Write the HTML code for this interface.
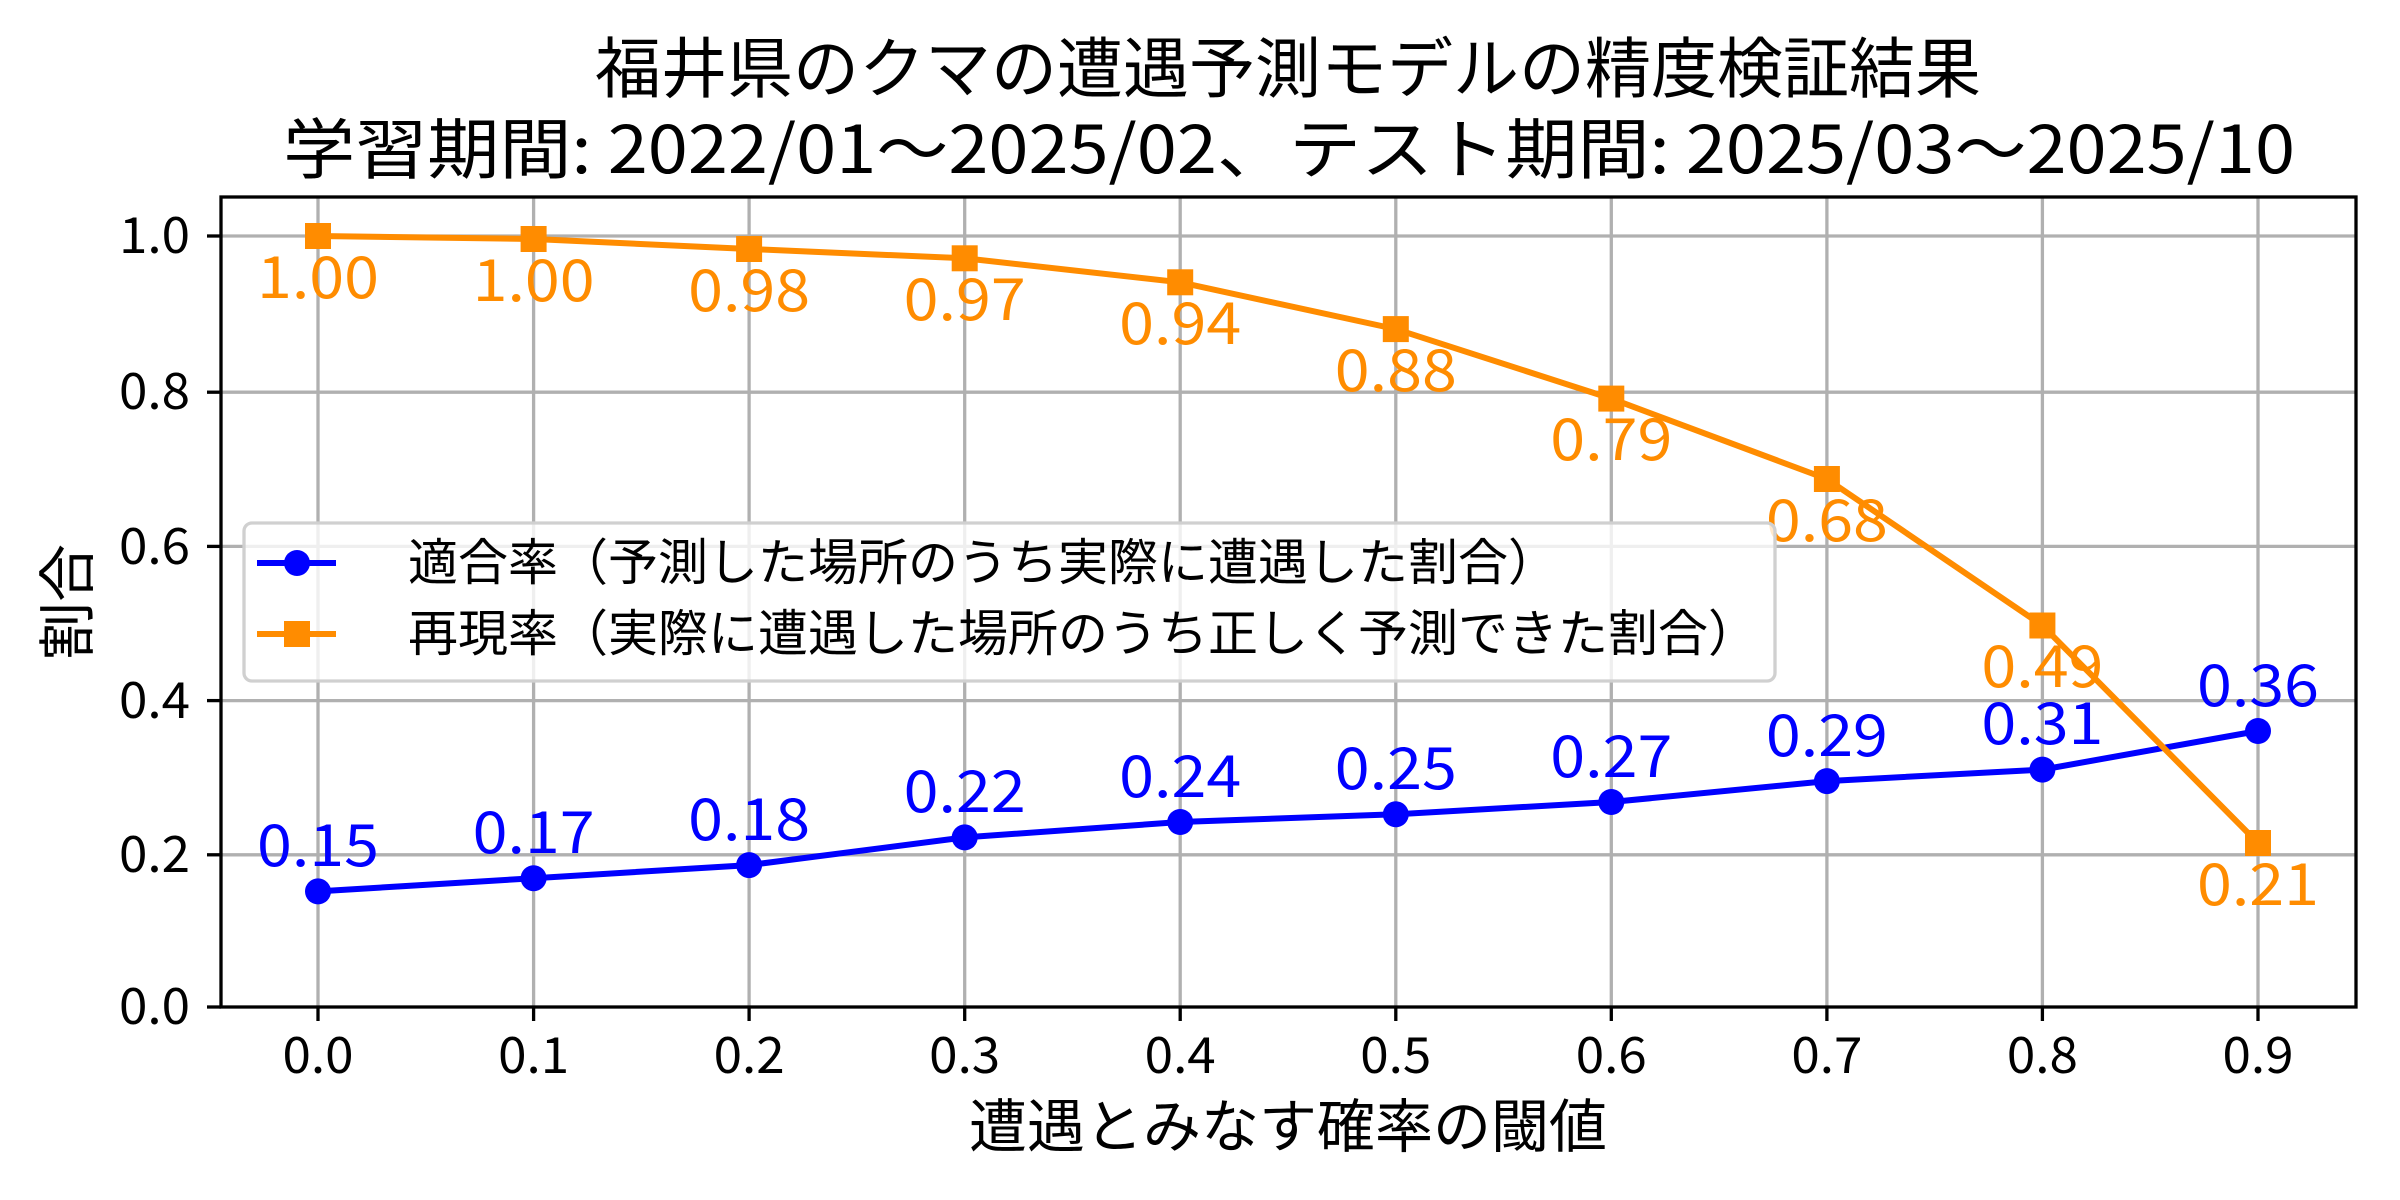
<!DOCTYPE html>
<html><head><meta charset="utf-8"><style>
html,body{margin:0;padding:0;background:#fff;}
svg{display:block;}
text{font-family:"Noto Sans CJK JP","Liberation Sans",sans-serif;}
</style></head><body>
<svg width="2400" height="1200" viewBox="0 0 2400 1200" xmlns="http://www.w3.org/2000/svg">
<rect width="2400" height="1200" fill="#fff"/>
<g stroke="#b0b0b0" stroke-width="3.3">
<line x1="318" y1="197" x2="318" y2="1007"/><line x1="533.6" y1="197" x2="533.6" y2="1007"/><line x1="749.1" y1="197" x2="749.1" y2="1007"/><line x1="964.7" y1="197" x2="964.7" y2="1007"/><line x1="1180.2" y1="197" x2="1180.2" y2="1007"/><line x1="1395.8" y1="197" x2="1395.8" y2="1007"/><line x1="1611.3" y1="197" x2="1611.3" y2="1007"/><line x1="1826.9" y1="197" x2="1826.9" y2="1007"/><line x1="2042.4" y1="197" x2="2042.4" y2="1007"/><line x1="2258" y1="197" x2="2258" y2="1007"/>
<line x1="221" y1="854.8" x2="2356" y2="854.8"/><line x1="221" y1="700.6" x2="2356" y2="700.6"/><line x1="221" y1="546.4" x2="2356" y2="546.4"/><line x1="221" y1="392.2" x2="2356" y2="392.2"/><line x1="221" y1="236" x2="2356" y2="236"/>
</g>
<g stroke="#000" stroke-width="3.3">
<line x1="318" y1="1007" x2="318" y2="1021"/><line x1="533.6" y1="1007" x2="533.6" y2="1021"/><line x1="749.1" y1="1007" x2="749.1" y2="1021"/><line x1="964.7" y1="1007" x2="964.7" y2="1021"/><line x1="1180.2" y1="1007" x2="1180.2" y2="1021"/><line x1="1395.8" y1="1007" x2="1395.8" y2="1021"/><line x1="1611.3" y1="1007" x2="1611.3" y2="1021"/><line x1="1826.9" y1="1007" x2="1826.9" y2="1021"/><line x1="2042.4" y1="1007" x2="2042.4" y2="1021"/><line x1="2258" y1="1007" x2="2258" y2="1021"/>
<line x1="207" y1="1007" x2="221" y2="1007"/><line x1="207" y1="854.8" x2="221" y2="854.8"/><line x1="207" y1="700.6" x2="221" y2="700.6"/><line x1="207" y1="546.4" x2="221" y2="546.4"/><line x1="207" y1="392.2" x2="221" y2="392.2"/><line x1="207" y1="236" x2="221" y2="236"/>
</g>
<g font-size="50" fill="#000" text-anchor="middle">
<text x="318" y="1073" textLength="71" lengthAdjust="spacingAndGlyphs">0.0</text><text x="533.6" y="1073" textLength="71" lengthAdjust="spacingAndGlyphs">0.1</text><text x="749.1" y="1073" textLength="71" lengthAdjust="spacingAndGlyphs">0.2</text><text x="964.7" y="1073" textLength="71" lengthAdjust="spacingAndGlyphs">0.3</text><text x="1180.2" y="1073" textLength="71" lengthAdjust="spacingAndGlyphs">0.4</text><text x="1395.8" y="1073" textLength="71" lengthAdjust="spacingAndGlyphs">0.5</text><text x="1611.3" y="1073" textLength="71" lengthAdjust="spacingAndGlyphs">0.6</text><text x="1826.9" y="1073" textLength="71" lengthAdjust="spacingAndGlyphs">0.7</text><text x="2042.4" y="1073" textLength="71" lengthAdjust="spacingAndGlyphs">0.8</text><text x="2258" y="1073" textLength="71" lengthAdjust="spacingAndGlyphs">0.9</text>
</g>
<g font-size="50" fill="#000" text-anchor="end">
<text x="190" y="1024" textLength="71" lengthAdjust="spacingAndGlyphs">0.0</text><text x="190" y="872" textLength="71" lengthAdjust="spacingAndGlyphs">0.2</text><text x="190" y="718" textLength="71" lengthAdjust="spacingAndGlyphs">0.4</text><text x="190" y="564" textLength="71" lengthAdjust="spacingAndGlyphs">0.6</text><text x="190" y="409" textLength="71" lengthAdjust="spacingAndGlyphs">0.8</text><text x="190" y="253" textLength="71" lengthAdjust="spacingAndGlyphs">1.0</text>
</g>
<polyline fill="none" stroke="#0000ff" stroke-width="6" points="318,891.4 533.6,878.2 749.1,865.1 964.7,837.4 1180.2,822 1395.8,814.3 1611.3,802 1826.9,781.1 2042.4,769.6 2258,731"/>
<g fill="#0000ff">
<circle cx="318" cy="891.4" r="13"/><circle cx="533.6" cy="878.2" r="13"/><circle cx="749.1" cy="865.1" r="13"/><circle cx="964.7" cy="837.4" r="13"/><circle cx="1180.2" cy="822" r="13"/><circle cx="1395.8" cy="814.3" r="13"/><circle cx="1611.3" cy="802" r="13"/><circle cx="1826.9" cy="781.1" r="13"/><circle cx="2042.4" cy="769.6" r="13"/><circle cx="2258" cy="731" r="13"/>
</g>
<polyline fill="none" stroke="#ff8c00" stroke-width="6" points="318,236 533.6,239 749.1,249 964.7,258.3 1180.2,282.3 1395.8,329.1 1611.3,398.6 1826.9,479 2042.4,625.5 2258,843"/>
<g fill="#ff8c00">
<rect x="305" y="223" width="26" height="26"/><rect x="520.6" y="226" width="26" height="26"/><rect x="736.1" y="236" width="26" height="26"/><rect x="951.7" y="245.3" width="26" height="26"/><rect x="1167.2" y="269.3" width="26" height="26"/><rect x="1382.8" y="316.1" width="26" height="26"/><rect x="1598.3" y="385.6" width="26" height="26"/><rect x="1813.9" y="466" width="26" height="26"/><rect x="2029.4" y="612.5" width="26" height="26"/><rect x="2245" y="830" width="26" height="26"/>
</g>
<g font-size="58" fill="#0000ff" text-anchor="middle">
<text x="318" y="866" textLength="122" lengthAdjust="spacingAndGlyphs">0.15</text><text x="533.6" y="853" textLength="122" lengthAdjust="spacingAndGlyphs">0.17</text><text x="749.1" y="840" textLength="122" lengthAdjust="spacingAndGlyphs">0.18</text><text x="964.7" y="812" textLength="122" lengthAdjust="spacingAndGlyphs">0.22</text><text x="1180.2" y="797" textLength="122" lengthAdjust="spacingAndGlyphs">0.24</text><text x="1395.8" y="789" textLength="122" lengthAdjust="spacingAndGlyphs">0.25</text><text x="1611.3" y="777" textLength="122" lengthAdjust="spacingAndGlyphs">0.27</text><text x="1826.9" y="756" textLength="122" lengthAdjust="spacingAndGlyphs">0.29</text><text x="2042.4" y="744" textLength="122" lengthAdjust="spacingAndGlyphs">0.31</text><text x="2258" y="706" textLength="122" lengthAdjust="spacingAndGlyphs">0.36</text>
</g>
<g font-size="58" fill="#ff8c00" text-anchor="middle">
<text x="318" y="298" textLength="122" lengthAdjust="spacingAndGlyphs">1.00</text><text x="533.6" y="301" textLength="122" lengthAdjust="spacingAndGlyphs">1.00</text><text x="749.1" y="311" textLength="122" lengthAdjust="spacingAndGlyphs">0.98</text><text x="964.7" y="320" textLength="122" lengthAdjust="spacingAndGlyphs">0.97</text><text x="1180.2" y="344" textLength="122" lengthAdjust="spacingAndGlyphs">0.94</text><text x="1395.8" y="391" textLength="122" lengthAdjust="spacingAndGlyphs">0.88</text><text x="1611.3" y="460" textLength="122" lengthAdjust="spacingAndGlyphs">0.79</text><text x="1826.9" y="541" textLength="122" lengthAdjust="spacingAndGlyphs">0.68</text><text x="2042.4" y="687" textLength="122" lengthAdjust="spacingAndGlyphs">0.49</text><text x="2258" y="905" textLength="122" lengthAdjust="spacingAndGlyphs">0.21</text>
</g>
<rect x="244" y="523" width="1531" height="158" rx="8" fill="#fff" fill-opacity="0.8" stroke="#d0d0d0" stroke-width="3.3"/>
<line x1="257" y1="563" x2="336" y2="563" stroke="#0000ff" stroke-width="6"/>
<circle cx="297" cy="563" r="13" fill="#0000ff"/>
<line x1="257" y1="634" x2="336" y2="634" stroke="#ff8c00" stroke-width="6"/>
<rect x="284" y="621" width="26" height="26" fill="#ff8c00"/>
<g font-size="50" fill="#000">
<text x="408" y="580">適合率（予測した場所のうち実際に遭遇した割合）</text>
<text x="408" y="651">再現率（実際に遭遇した場所のうち正しく予測できた割合）</text>
</g>
<rect x="221" y="197" width="2135" height="810" fill="none" stroke="#000" stroke-width="3.3"/>
<g font-size="66" fill="#000" text-anchor="middle">
<text x="1288" y="92">福井県のクマの遭遇予測モデルの精度検証結果</text>
<text x="1289" y="173" textLength="2012" lengthAdjust="spacingAndGlyphs">学習期間: 2022/01～2025/02、テスト期間: 2025/03～2025/10</text>
</g>
<text x="1288" y="1147" font-size="58" fill="#000" text-anchor="middle">遭遇とみなす確率の閾値</text>
<text transform="translate(88,602) rotate(-90)" font-size="58" fill="#000" text-anchor="middle">割合</text>
</svg>
</body></html>
